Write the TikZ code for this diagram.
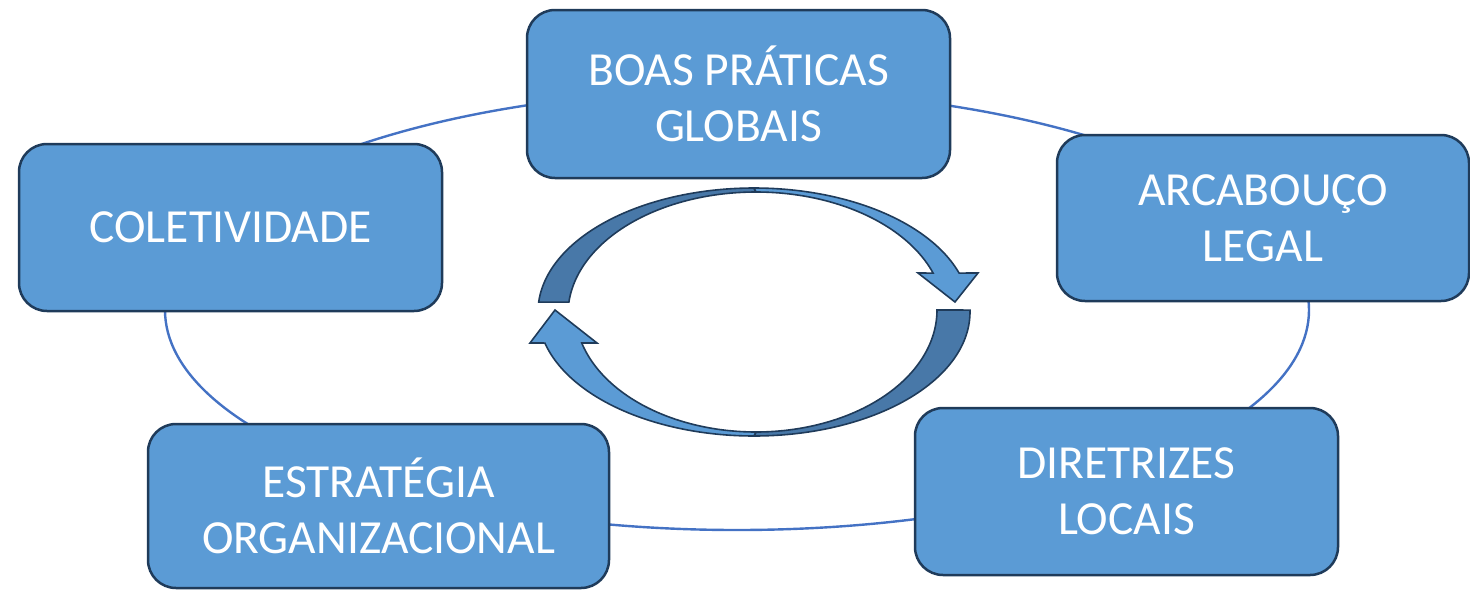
\documentclass[tikz,border=0pt]{standalone}
\usepackage{fontspec}
\setmainfont{Carlito}
\definecolor{boxfill}{HTML}{5B9BD5}
\definecolor{boxline}{HTML}{1F3B5A}
\definecolor{ringline}{HTML}{4472C4}
\definecolor{arrowdark}{HTML}{4878A8}
\begin{document}
\begin{tikzpicture}[x=1pt,y=-1pt,
  card/.style={draw=boxline, line width=2.5pt, fill=boxfill, rounded corners=28pt,
    text=white, font=\fontsize{47.5}{56}\selectfont, align=center, inner sep=0pt},
  ring/.style={draw=ringline, line width=2.4pt},
  arrowlight/.style={draw=boxline, line width=1.6pt, fill=boxfill, line join=miter},
  arrowshade/.style={draw=boxline, line width=1.6pt, fill=arrowdark, line join=miter}]
\useasboundingbox (0,0) rectangle (1470,590);
% background ring
\draw[ring] (737,310) ellipse [x radius=572pt, y radius=220pt];
% boxes
\node[card, minimum width=423pt, minimum height=168pt] (boas) at (738.5,94) {BOAS PRÁTICAS\\GLOBAIS};
\node[card, minimum width=423pt, minimum height=167pt] (colet) at (230.5,227.5) {COLETIVIDADE};
\node[card, minimum width=412pt, minimum height=166pt] (arcab) at (1263,218) {ARCABOUÇO\\LEGAL};
\node[card, minimum width=461pt, minimum height=164pt] (estrat) at (378.5,506) {ESTRATÉGIA\\ORGANIZACIONAL};
\node[card, minimum width=423pt, minimum height=167pt] (diret) at (1126.5,491.5) {DIRETRIZES\\LOCAIS};
% top circular arrow
\filldraw[arrowshade] plot[domain=175.4:90, samples=60] ({754+216*cos(\x)},{312-124*sin(\x)})
  -- plot[domain=90:174.4, samples=60] ({756+188*cos(\x)},{314-122*sin(\x)}) -- cycle;
\filldraw[arrowlight] plot[domain=90:18.3, samples=60] ({754+216*cos(\x)},{312-124*sin(\x)})
  -- (978,273) -- (955,302) -- (918,273)
  -- plot[domain=19.6:90, samples=60] ({756+188*cos(\x)},{314-122*sin(\x)}) -- cycle;
% bottom circular arrow
\filldraw[arrowshade] plot[domain=0.9:-90, samples=60] ({754+216*cos(\x)},{312-124*sin(\x)})
  -- plot[domain=-90:0, samples=60] ({756+181*cos(\x)},{310-122*sin(\x)}) -- cycle;
\filldraw[arrowlight] plot[domain=-90:-165.5, samples=60] ({754+216*cos(\x)},{312-124*sin(\x)})
  -- (530,343) -- (555,310) -- (597,343)
  -- plot[domain=-164.3:-90, samples=60] ({756+181*cos(\x)},{310-122*sin(\x)}) -- cycle;
\end{tikzpicture}
\end{document}
